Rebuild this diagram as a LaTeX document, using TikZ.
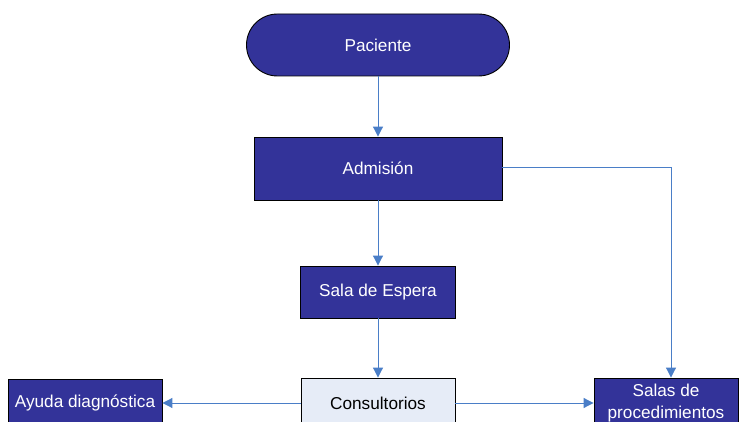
\documentclass[tikz,border=0pt]{standalone}
\usepackage{fontspec}
\setmainfont{Liberation Sans}
\usetikzlibrary{arrows.meta}
\definecolor{boxblue}{HTML}{333399}
\definecolor{linkblue}{HTML}{4A7EC7}
\definecolor{lightbox}{HTML}{E6ECF7}
\tikzset{
  darkbox/.style={draw=black, line width=0.9pt, fill=boxblue, text=white, font=\fontsize{17.2}{21.5}\selectfont, align=center, inner sep=0pt},
  lightbx/.style={draw=black, line width=0.9pt, fill=lightbox, text=black, font=\fontsize{17.2}{21.5}\selectfont, align=center, inner sep=0pt},
  link/.style={draw=linkblue, line width=1pt, -{Triangle[width=10pt,length=10pt]}},
}
\begin{document}
\begin{tikzpicture}[x=1pt,y=1pt]
\useasboundingbox (0,0) rectangle (740,421);
% y_tikz = 421 - y_px
\node[darkbox, rounded corners=31pt, minimum width=263pt, minimum height=62pt] (pac) at (378,376) {Paciente};
\node[darkbox, minimum width=248pt, minimum height=63pt] (adm) at (378,252.5) {Admisión};
\node[darkbox, minimum width=155pt, minimum height=52pt] (sala) at (378,129) {Sala de Espera};
\node[lightbx, minimum width=154pt, minimum height=50pt] (cons) at (378,18) {Consultorios};
\node[darkbox, minimum width=154pt, minimum height=48pt] (ayu) at (85,18) {Ayuda diagnóstica};
\node[darkbox, minimum width=144pt, minimum height=50pt] (proc) at (666,18) {Salas de\\procedimientos};
\coordinate (corner) at (671,253);
\draw[link] (pac.south) -- (adm.north);
\draw[link] (adm.south) -- (sala.north);
\draw[link] (sala.south) -- (cons.north);
\draw[link] (cons.west) -- (ayu.east);
\draw[link] (cons.east) -- (proc.west);
\draw[link] (adm.east |- corner) -- (corner) -- (corner |- proc.north);
\end{tikzpicture}
\end{document}
